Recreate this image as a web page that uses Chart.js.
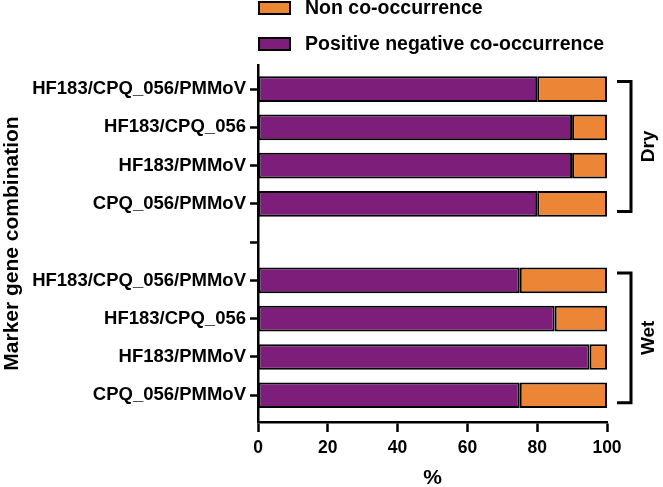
<!DOCTYPE html>
<html><head><meta charset="utf-8">
<script src="https://cdn.jsdelivr.net/npm/chart.js@4.4.1/dist/chart.umd.min.js"></script>
<style>html,body{margin:0;padding:0;background:#fff}#wrap{width:663px;height:487px;position:relative}</style>
</head><body><div id="wrap"><canvas id="c" width="663" height="487"></canvas></div>
<script>
const categories = ['HF183/CPQ_056/PMMoV','HF183/CPQ_056','HF183/PMMoV','CPQ_056/PMMoV','','HF183/CPQ_056/PMMoV','HF183/CPQ_056','HF183/PMMoV','CPQ_056/PMMoV'];
const positiveNegative = [80, 90, 90, 80, null, 75, 85, 95, 75];
const nonCoOccurrence = [20, 10, 10, 20, null, 25, 15, 5, 25];
const xTicks = [0, 20, 40, 60, 80, 100];
const seriesNames = ['Positive negative co-occurrence', 'Non co-occurrence'];
const groupLabels = ['Dry', 'Wet'];
const groupRanges = [[0, 3], [5, 8]];
const yTitle = 'Marker gene combination';
const xTitle = '%';

const PURPLE = '#7e1e7b', ORANGE = '#ec8535';
const FONT = "'Liberation Sans', Arial, sans-serif";

function toPoints(arr){ const out=[]; arr.forEach((v,i)=>{ if(v!==null) out.push({x:v,y:i}); }); return out; }

const legendPlugin = {
  id:'customLegend',
  afterDraw(chart){
    const ctx = chart.ctx, left = chart.chartArea.left;
    const items = [[seriesNames[1], ORANGE, 8], [seriesNames[0], PURPLE, 44]];
    ctx.save();
    items.forEach(([txt,col,cy])=>{
      ctx.fillStyle = col; ctx.strokeStyle = '#000'; ctx.lineWidth = 2;
      ctx.fillRect(left+1, cy-6, 31, 12); ctx.strokeRect(left+1, cy-6, 31, 12);
      ctx.fillStyle = '#000'; ctx.font = 'bold 19.5px ' + FONT;
      ctx.textBaseline = 'middle'; ctx.textAlign = 'left';
      ctx.fillText(txt, left+47, cy+1);
    });
    ctx.restore();
  }
};

const bracketPlugin = {
  id:'brackets',
  afterDraw(chart){
    const ctx = chart.ctx, ys = chart.scales.y, right = chart.chartArea.right;
    ctx.save();
    ctx.strokeStyle = '#000'; ctx.lineWidth = 3; ctx.lineCap='butt';
    groupRanges.forEach((r,gi)=>{
      const y1 = ys.getPixelForValue(r[0]) - 7.5, y2 = ys.getPixelForValue(r[1]) + 7.5;
      const xv = right + 24, xa = right + 10;
      ctx.beginPath();
      ctx.moveTo(xa, y1); ctx.lineTo(xv, y1); ctx.lineTo(xv, y2); ctx.lineTo(xa, y2);
      ctx.stroke();
      ctx.save();
      ctx.translate(right + 42, (y1+y2)/2);
      ctx.rotate(-Math.PI/2);
      ctx.fillStyle='#000'; ctx.font = 'bold 19px ' + FONT;
      ctx.textAlign='center'; ctx.textBaseline='middle';
      ctx.fillText(groupLabels[gi], 0, 0);
      ctx.restore();
    });
    ctx.restore();
  }
};

new Chart(document.getElementById('c'), {
  type:'bar',
  data:{
    datasets:[
      {label:seriesNames[0], data:toPoints(positiveNegative), backgroundColor:PURPLE, borderColor:'#000', borderWidth:2, borderSkipped:false, barPercentage:0.67, categoryPercentage:1},
      {label:seriesNames[1], data:toPoints(nonCoOccurrence), backgroundColor:ORANGE, borderColor:'#000', borderWidth:2, borderSkipped:false, barPercentage:0.67, categoryPercentage:1}
    ]
  },
  options:{
    indexAxis:'y', responsive:false, animation:false, devicePixelRatio:1,
    layout:{padding:{top:65, right:56, left:0, bottom:0}},
    plugins:{legend:{display:false}, tooltip:{enabled:false}},
    scales:{
      x:{
        type:'linear', stacked:true, min:0, max:100, offset:false,
        afterBuildTicks(s){ s.ticks = xTicks.map(v=>({value:v})); },
        afterFit(s){ s.height = 65; },
        ticks:{color:'#000', font:{family:FONT, size:17.5, weight:'bold'}, padding:6},
        grid:{offset:false, drawOnChartArea:false, drawTicks:true, tickLength:10, tickWidth:2.5, tickColor:'#000'},
        border:{color:'#000', width:2.5},
        title:{display:true, text:xTitle, color:'#000', font:{family:FONT, size:21, weight:'bold'}, padding:{top:10, bottom:-4}}
      },
      y:{
        type:'linear', stacked:true, reverse:true, min:-0.63, max:8.7, offset:false,
        afterBuildTicks(s){ s.ticks = categories.map((_,i)=>({value:i})); },
        afterFit(s){ s.width = 258; },
        ticks:{color:'#000', font:{family:FONT, size:18.5, weight:'bold'}, padding:4, autoSkip:false, callback:(v)=>categories[v] ?? ''},
        grid:{offset:false, drawOnChartArea:false, drawTicks:true, tickLength:8, tickWidth:2.5, tickColor:'#000'},
        border:{color:'#000', width:2.5},
        title:{display:true, text:yTitle, color:'#000', font:{family:FONT, size:21, weight:'bold'}, padding:{top:0, bottom:0}}
      }
    }
  },
  plugins:[legendPlugin, bracketPlugin]
});
</script></body></html>
